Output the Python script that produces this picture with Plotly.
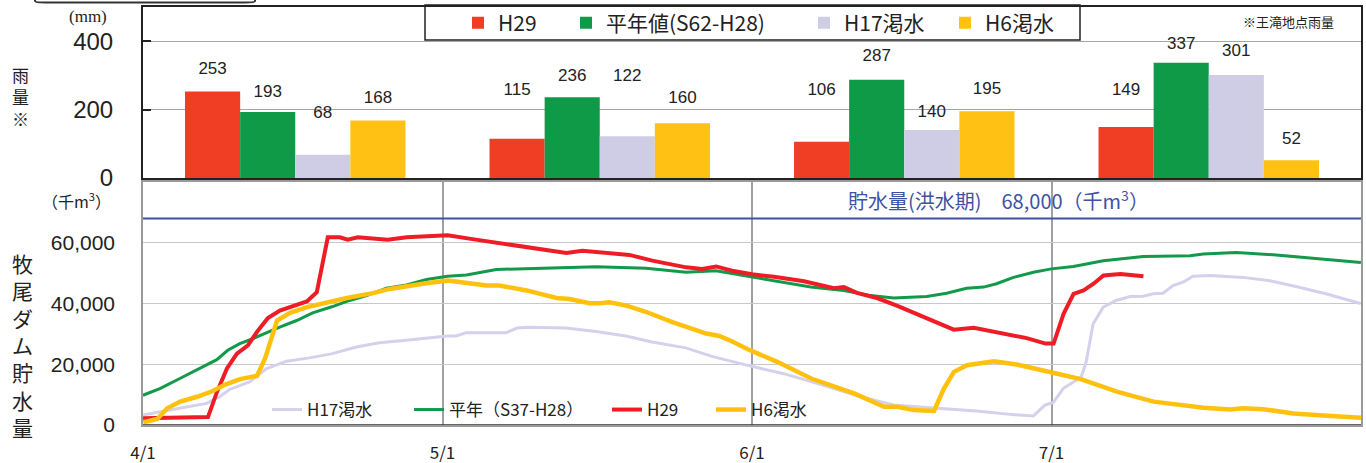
import plotly.graph_objects as go
import pandas as pd

# ---------------- data ----------------
months = ["4月", "5月", "6月", "7月"]
rain_h29 = [253, 115, 106, 149]
rain_avg = [193, 236, 287, 337]
rain_h17 = [68, 122, 140, 301]
rain_h6 = [168, 160, 195, 52]

flood_capacity = 68000  # 千m3

# storage: days after 4/1 and values (千m3)
h29_days = [0, 3, 6.5, 7.4, 8.4, 9.4, 10.5, 11.4, 12.5, 13.7, 15, 16.4, 17.4, 18.5, 19.7, 20.5,
            21.5, 23, 24.5, 26.4, 28.4, 30.5, 33, 36.4, 39.7, 42.4, 44, 46.4, 48.7, 51, 54.4,
            56, 57.4, 59, 61, 63.2, 66.2, 69.2, 70.2, 71.5, 73.5, 75.5, 78.2, 81.2, 83.2, 85.5,
            88.5, 90.4, 91.2, 92.2, 93.2, 94.2, 95.2, 96.2, 97.9, 100.2]
h29_vals = [2200, 2400, 2600, 10900, 18600, 23500, 26200, 30600, 35200, 37700, 39300, 40700,
            43700, 61800, 61800, 61000, 61800, 61400, 61000, 61800, 62300, 62500, 61200, 59600,
            57900, 56600, 57400, 56800, 56000, 54100, 51900, 51400, 52200, 50800, 49600, 48800,
            47300, 45000, 45400, 43500, 41800, 39300, 35500, 31400, 32000, 30600, 28600, 26800,
            26800, 36600, 43200, 44300, 46500, 49200, 49700, 49000]

avg_days = [0, 1.7, 3.7, 5.7, 7.4, 8.5, 9.7, 11, 12.4, 13.7, 15.4, 17, 19, 20.7, 22.4, 24.4,
            26.4, 28.4, 30.5, 32.4, 35.4, 38, 42.4, 45.4, 50.4, 54.4, 57.4, 60.2, 63.5, 66.9,
            70.2, 72.9, 75.2, 77.5, 78.5, 80.5, 82.5, 84.2, 85.5, 87.2, 89.2, 91, 93.2, 96.2,
            98.2, 100.2, 104.9, 106.2, 109.5, 113.5, 116.9, 122]
avg_vals = [9800, 12000, 15300, 18600, 21500, 24600, 26800, 28400, 30400, 32200, 34400, 36900,
            39000, 41000, 42600, 45000, 46100, 47900, 49000, 49400, 51200, 51400, 51700, 52100,
            51600, 50300, 50800, 49200, 47200, 45400, 44300, 42600, 41800, 42300, 42300, 43400,
            45000, 45400, 46500, 48600, 50300, 51400, 52200, 54100, 54700, 55500, 55700, 56300,
            56800, 56000, 55000, 53500]

h6_days = [0, 1.4, 2.4, 3.7, 5.4, 6.9, 8.2, 9.7, 11.4, 12.2, 13.4, 14.7, 16.4, 18.4, 20.4, 23,
           24.7, 28, 30.5, 34.4, 35.7, 38.4, 41.4, 42.7, 44.7, 45.7, 46.7, 48.4, 50.4, 53, 56.4,
           57.7, 59, 60.5, 63.5, 66.9, 71.2, 74.2, 75.5, 77.2, 79.2, 80.2, 81.2, 82.5, 85.2,
           87.5, 89.2, 91, 93.9, 97.6, 101.2, 103.6, 106.2, 108.9, 110.2, 112.2, 115.2, 118.2, 122]
h6_vals = [900, 2000, 5500, 7700, 9300, 11100, 13300, 15100, 16200, 21900, 34400, 36900, 38800,
           40400, 41800, 43400, 44800, 46500, 47600, 45900, 45900, 44300, 41800, 41500, 40100,
           40100, 40400, 39300, 37200, 33900, 30100, 29300, 27500, 25000, 20800, 15300, 10400,
           6000, 6000, 4900, 4600, 12000, 17500, 19700, 21000, 19900, 18800, 17300, 15100, 10900,
           7700, 6800, 5700, 5100, 5500, 5200, 3800, 3100, 2400]

h17_days = [0, 1.7, 3.7, 6.4, 7.7, 8.7, 10.7, 12.4, 14.4, 16.7, 19, 21.4, 23.7, 26.4, 28.4, 30.5,
            31.4, 32.4, 36.4, 37.5, 38.7, 42.4, 45.4, 48.4, 51, 54.4, 57, 60.5, 64.2, 68.2, 71.9,
            75.2, 78.9, 83.5, 86.9, 89.2, 90.4, 91.2, 92.2, 94, 94.5, 95.2, 96.2, 97.5, 98.9,
            100.2, 101.2, 102.2, 103.2, 104.2, 105.2, 106.9, 110.2, 112.9, 115.5, 118.5, 122]
h17_vals = [3300, 4200, 5500, 7100, 9300, 11700, 14200, 18600, 21000, 22100, 23500, 25700, 27100,
            27900, 28600, 29300, 29300, 30400, 30400, 31900, 32200, 31900, 30800, 29300, 27300,
            25400, 22600, 19700, 16900, 13100, 9300, 6600, 5700, 4600, 3500, 3000, 6600, 7400,
            12000, 15800, 20800, 33300, 38800, 41000, 42300, 42400, 43200, 43400, 45900, 47000,
            49000, 49200, 48600, 47500, 45600, 43200, 40000]

x_tick_dates = ["2017-04-01", "2017-05-01", "2017-06-01", "2017-07-01"]
x_tick_text = ["4/1", "5/1", "6/1", "7/1"]
x_range = ["2017-04-01", "2017-08-01"]

start = pd.Timestamp("2017-04-01")


def to_dates(days):
    return [start + pd.Timedelta(days=d) for d in days]


# ---------------- styles ----------------
JP = "Noto Sans CJK JP"
SANS = "Liberation Sans"
C_RED_BAR, C_GRN_BAR, C_LAV_BAR, C_YEL_BAR = "#EF3E23", "#0F9A48", "#CFCDE6", "#FFC114"
C_RED, C_GRN, C_LAV, C_YEL = "#EE1C25", "#12994A", "#D3D1EC", "#FFC10E"
C_BLUE = "#3F51A3"

# label lift above each bar (px, style only): larger value = label sits higher
lift_h29 = [19, 62, 67, 43]
lift_avg = [16, 18, 21, 14]
lift_h17 = [51, 80, 13, 22]
lift_h6 = [19, 24, 19, 18]

W, H = 1366, 463
XL, XR = 143 / W, 1361 / W
top_dom = [(H - 178) / H, (H - 7) / H]
bot_dom = [(H - 425) / H, (H - 182) / H]

fig = go.Figure()

# bar series -> one small legend each (px = left of the legend item)
bar_specs = [("H29", rain_h29, C_RED_BAR, "legend2", 458, lift_h29),
             ("平年値(S62-H28)", rain_avg, C_GRN_BAR, "legend3", 566, lift_avg),
             ("H17渇水", rain_h17, C_LAV_BAR, "legend4", 804, lift_h17),
             ("H6渇水", rain_h6, C_YEL_BAR, "legend5", 945, lift_h6)]
for name, vals, col, lg, _, _ in bar_specs:
    fig.add_trace(go.Bar(
        x=months, y=vals, name=name, marker=dict(color=col, line=dict(width=0)),
        xaxis="x", yaxis="y", legend=lg, hoverinfo="skip"))
# value labels, grouped to sit over their bars
for name, vals, col, lg, _, lift in bar_specs:
    fig.add_trace(go.Scatter(
        x=months, y=vals, mode="markers+text", text=[str(v) for v in vals],
        textposition="top center",
        marker=dict(size=lift, color="rgba(0,0,0,0)", opacity=0,
                    line=dict(width=0, color="rgba(0,0,0,0)")),
        textfont=dict(family=SANS, size=17, color="#222"), cliponaxis=False,
        showlegend=False, hoverinfo="skip", xaxis="x", yaxis="y"))

line_specs = [("H17渇水", h17_days, h17_vals, C_LAV, 3, "legend", 267),
              ("平年（S37-H28）", avg_days, avg_vals, C_GRN, 3, "legend6", 409),
              ("H29", h29_days, h29_vals, C_RED, 4, "legend7", 607),
              ("H6渇水", h6_days, h6_vals, C_YEL, 4.5, "legend8", 711)]
for name, days, vals, col, w, lg, _ in line_specs:
    fig.add_trace(go.Scatter(
        x=to_dates(days), y=vals, name=name, mode="lines",
        line=dict(color=col, width=w), xaxis="x2", yaxis="y2", legend=lg))

legends = {}
for _, _, _, lg, px, _ in bar_specs:
    legends[lg] = dict(orientation="h", x=px / W, xanchor="left", y=(H - 23) / H,
                       yanchor="middle", bgcolor="rgba(0,0,0,0)", borderwidth=0,
                       font=dict(family=JP, size=21, color="#222"), itemclick=False)
for _, _, _, _, _, lg, px in line_specs:
    legends[lg] = dict(orientation="h", x=px / W, xanchor="left", y=(H - 410) / H,
                       yanchor="middle", bgcolor="rgba(0,0,0,0)", borderwidth=0,
                       font=dict(family=JP, size=17, color="#222"), itemclick=False)

fig.update_layout(
    width=W, height=H, margin=dict(l=0, r=0, t=0, b=0, autoexpand=False),
    paper_bgcolor="white", plot_bgcolor="white",
    barmode="group", bargap=0.276, bargroupgap=0,
    scattermode="group", scattergap=0.276,
    showlegend=True,
    xaxis=dict(domain=[XL, XR], anchor="y", showticklabels=False, ticks="",
               showline=True, linecolor="#222", linewidth=2, mirror=True, showgrid=False,
               automargin=False),
    yaxis=dict(domain=top_dom, anchor="x", range=[0, 500], tickvals=[0, 200, 400],
               ticktext=["0", "200", "400"], showgrid=True, gridcolor="#A6A6A6", gridwidth=1.3,
               ticks="inside", ticklen=8, tickcolor="#222", tickwidth=2,
               showline=True, linecolor="#222", linewidth=2, mirror=True,
               tickfont=dict(family=SANS, size=24, color="#222"), ticklabelstandoff=23,
               zeroline=False, automargin=False),
    xaxis2=dict(domain=[XL, XR], anchor="y2", type="date", range=x_range,
                tickvals=x_tick_dates, ticktext=x_tick_text, showgrid=True,
                gridcolor="#A0A0A0", gridwidth=1.5, ticks="",
                showline=True, linecolor="#9A9A9A", linewidth=1.5, mirror=True,
                tickfont=dict(family=JP, size=17, color="#222"), ticklabelstandoff=12,
                automargin=False),
    yaxis2=dict(domain=bot_dom, anchor="x2", range=[0, 80000],
                tickvals=[0, 20000, 40000, 60000],
                ticktext=["0", "20,000", "40,000", "60,000"], showgrid=True,
                gridcolor="#C8C8C8", gridwidth=1, ticks="",
                showline=True, linecolor="#9A9A9A", linewidth=1.5, mirror=True,
                tickfont=dict(family=SANS, size=21, color="#222"), ticklabelstandoff=22,
                zeroline=False, automargin=False),
    **legends,
)

# white panel behind the lower legend (hides grid lines there)
fig.add_shape(type="rect", xref="paper", yref="paper", layer="between",
              x0=243 / W, x1=835 / W, y0=(H - 424) / H, y1=(H - 397) / H,
              fillcolor="white", line=dict(width=0))
# bottom chart: dark bottom line
fig.add_shape(type="line", xref="x2 domain", yref="y2", x0=0, x1=1, y0=0, y1=0,
              line=dict(color="#333", width=1.5))
# flood-season capacity line
fig.add_shape(type="line", xref="x2 domain", yref="y2", x0=0, x1=1,
              y0=flood_capacity, y1=flood_capacity, line=dict(color=C_BLUE, width=2))
# upper legend frame
fig.add_shape(type="rect", xref="paper", yref="paper", layer="above",
              x0=425 / W, x1=1080 / W, y0=(H - 40) / H, y1=(H - 5) / H,
              fillcolor="rgba(0,0,0,0)", line=dict(color="#222", width=1.5))
fig.add_shape(type="rect", xref="paper", yref="paper", layer="between",
              x0=425 / W, x1=1080 / W, y0=(H - 40) / H, y1=(H - 5) / H,
              fillcolor="white", line=dict(width=0))
# top-left partial title box
fig.add_shape(type="path", xref="paper", yref="paper",
              path=f"M {35/W} 1.05 L {35/W} {(H-1)/H} Q {35/W} {(H-2.5)/H} {45/W} {(H-2.5)/H} "
                   f"L {245/W} {(H-2.5)/H} Q {255/W} {(H-2.5)/H} {255/W} {(H-1)/H} L {255/W} 1.05",
              line=dict(color="#333", width=2))

ann = [
    dict(text="貯水量(洪水期)　68,000（千m<sup>3</sup>）", x=998 / W, y=(H - 200) / H,
         font=dict(family=JP, size=20, color=C_BLUE)),
    dict(text="※王滝地点雨量", x=1288 / W, y=(H - 21) / H,
         font=dict(family=JP, size=13, color="#222")),
    dict(text="(mm)", x=88 / W, y=(H - 17) / H,
         font=dict(family="Liberation Serif", size=17, color="#222")),
    dict(text="雨<br>量<br>※", x=20 / W, y=(H - 96) / H,
         font=dict(family=JP, size=17, color="#222")),
    dict(text="（千m<sup>3</sup>）", x=76 / W, y=(H - 200) / H,
         font=dict(family=JP, size=16, color="#222")),
    dict(text="牧<br>尾<br>ダ<br>ム<br>貯<br>水<br>量", x=22 / W, y=(H - 345) / H,
         font=dict(family=JP, size=21, color="#222")),
]
for a in ann:
    fig.add_annotation(xref="paper", yref="paper", showarrow=False,
                       xanchor="center", yanchor="middle", **a)

fig.write_html("out.html", config={"displayModeBar": False},
               post_script="document.body.style.margin='0px';")
